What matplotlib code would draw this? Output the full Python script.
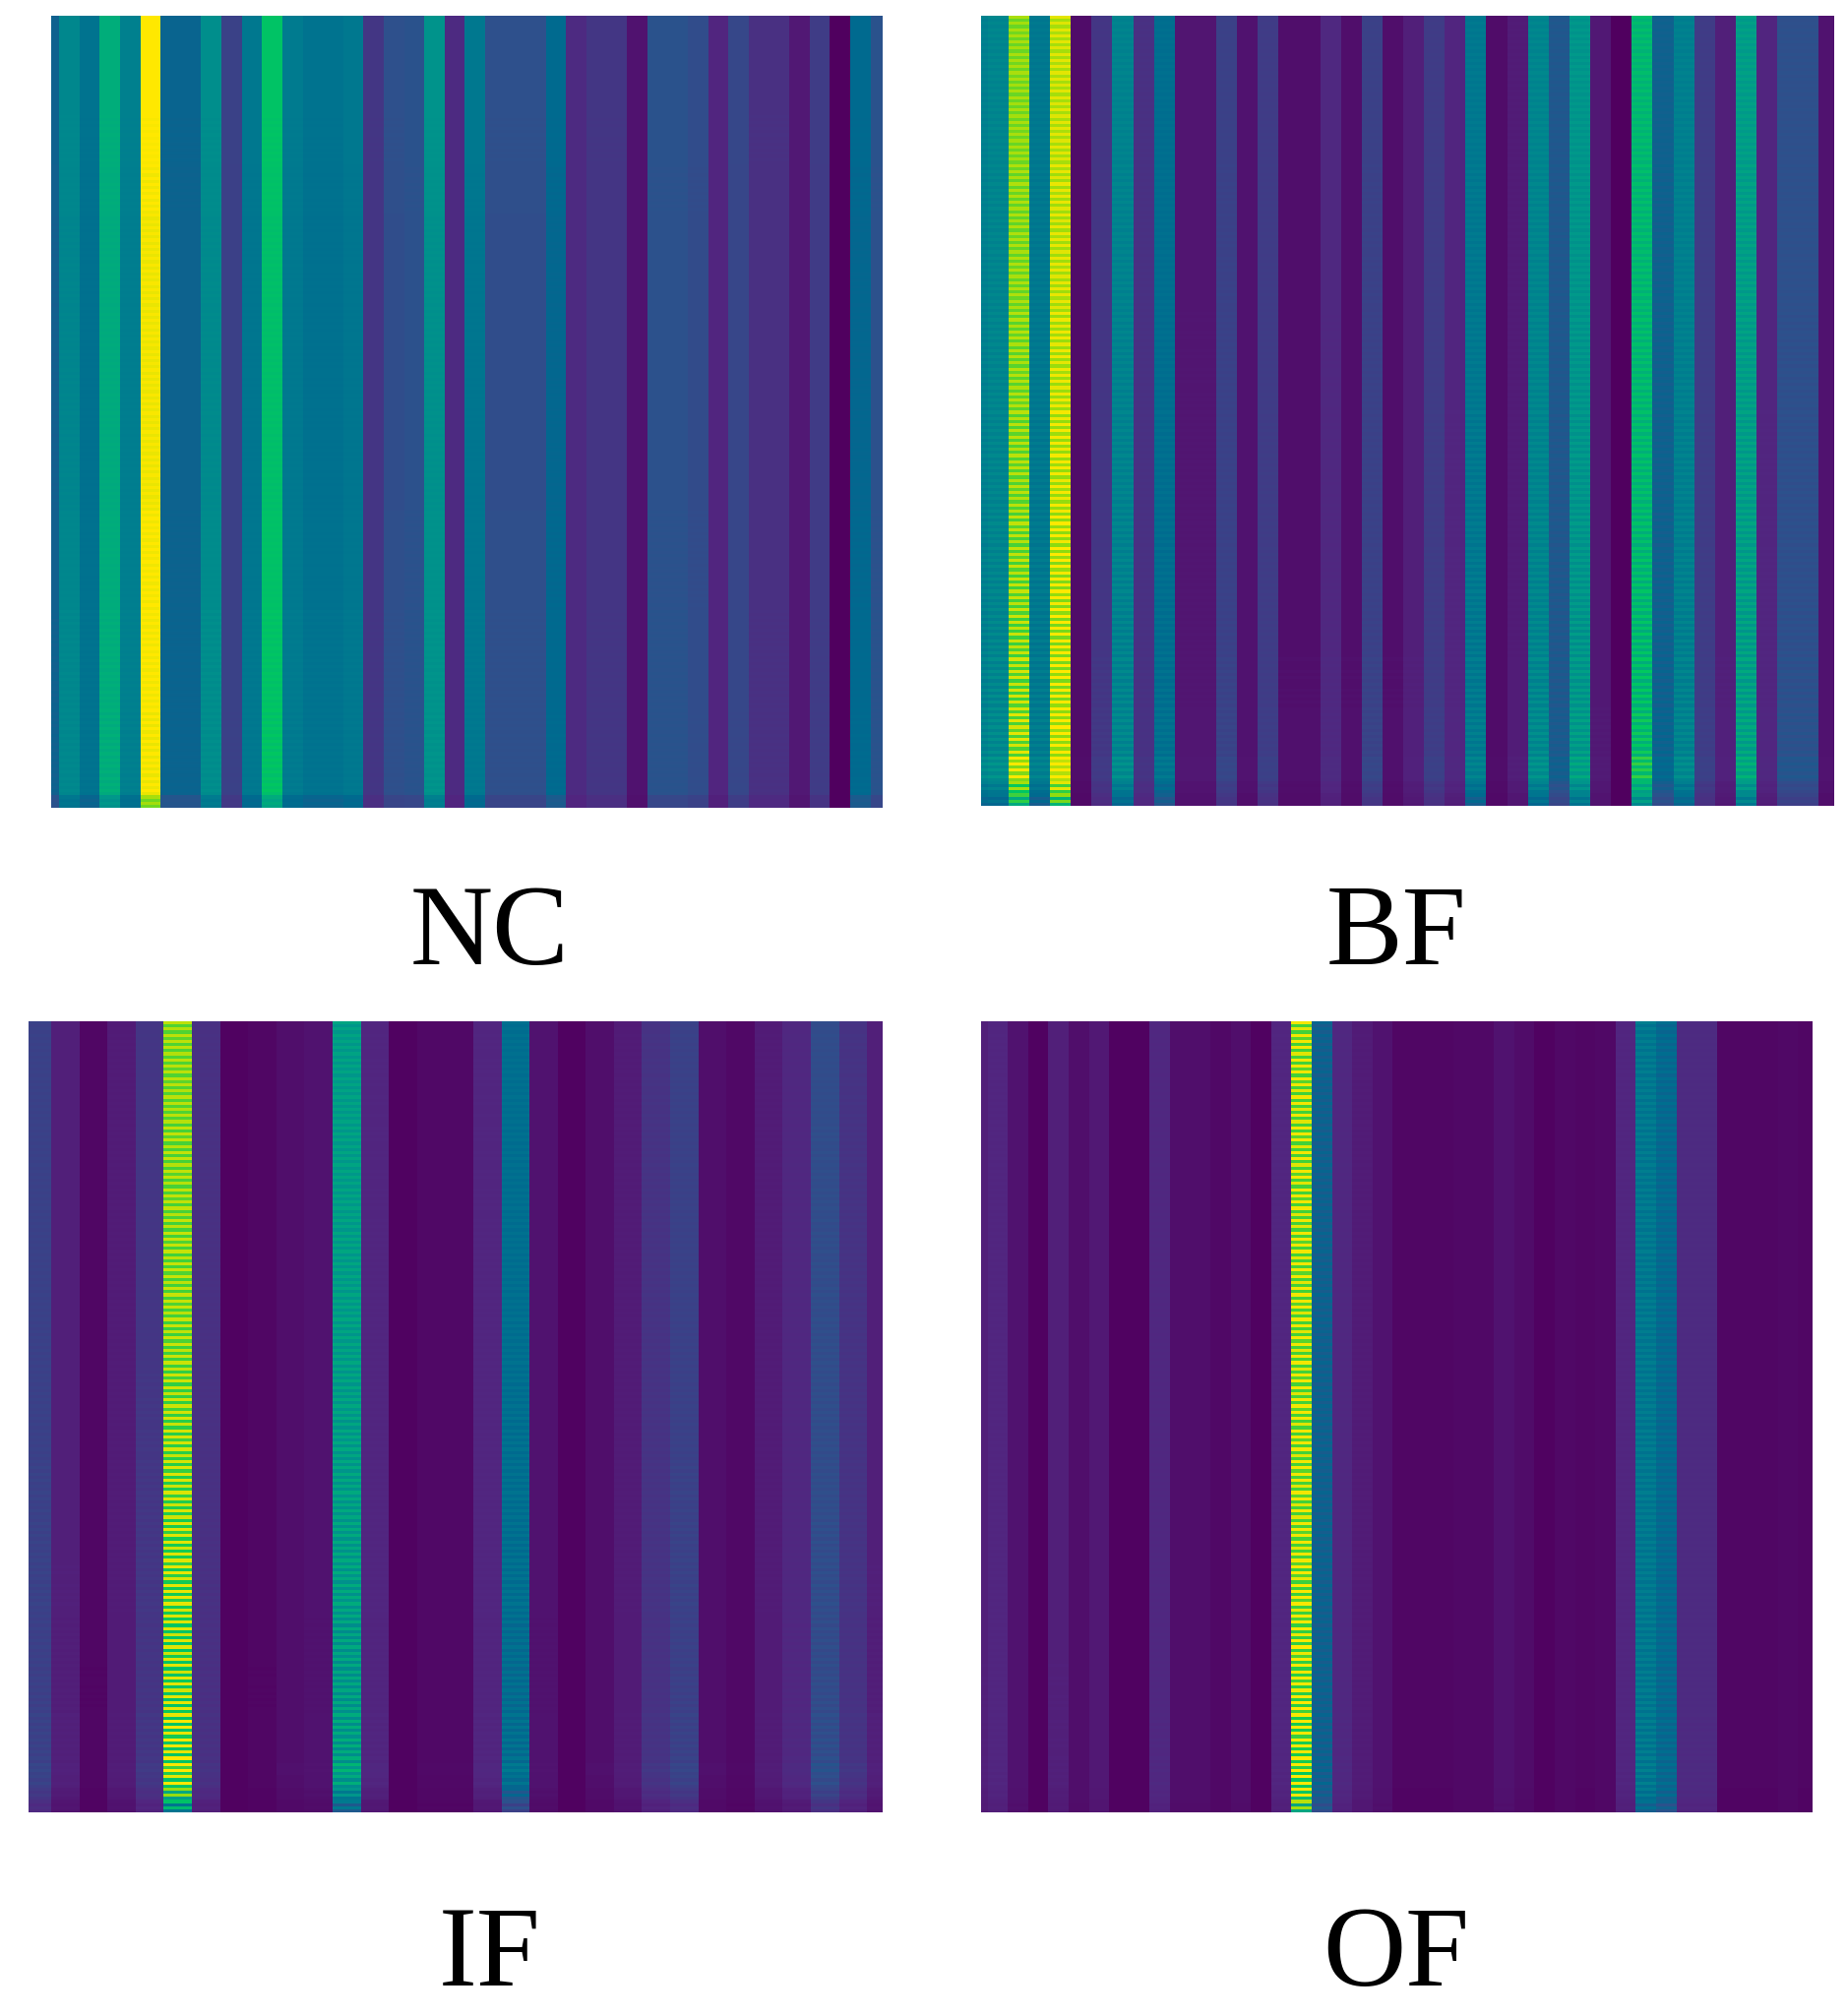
import numpy as np
import matplotlib
matplotlib.use("Agg")
import matplotlib.pyplot as plt
from matplotlib.colors import LinearSegmentedColormap

labels = ["NC", "BF", "IF", "OF"]

nc_cols = [.33, .48, .40, .62, .45, 1.0, .34, .34, .50, .22, .42, .70, .43, .40,
           .40, .42, .18, .27, .28, .52, .14, .42, .27, .27, .27, .36, .14, .18,
           .18, .06, .28, .28, .26, .12, .24, .16, .16, .08, .20, .00, .36, .28]
bf_cols = [.45, .47, .85, .42, .92, .04, .18, .46, .16, .38, .07, .07, .22, .06,
           .20, .05, .05, .13, .05, .22, .05, .10, .20, .12, .42, .04, .09, .47,
           .30, .53, .08, .00, .66, .33, .45, .20, .10, .56, .12, .27, .27, .06]
if_cols = [.22, .10, .02, .09, .18, .85, .16, .01, .02, .05, .06, .56, .12, .01,
           .03, .03, .12, .38, .06, .01, .05, .09, .17, .22, .05, .03, .09, .13,
           .26, .17, .10]
of_cols = [.10, .12, .06, .01, .10, .05, .08, .01, .01, .13, .05, .05, .03, .05,
           .01, .12, .88, .33, .13, .09, .06, .02, .02, .02, .03, .03, .06, .04,
           .01, .03, .02, .03, .12, .42, .36, .14, .14, .02, .02, .02, .03, .02]

# stripe strength down each panel, 16 sections top to bottom
nc_env = [.00, .00, .01, .01, .01, .01, .01, .01, .01, .01, .01, .01, .02, .02, .03, .03]
bf_env = [.05, .05, .05, .06, .06, .06, .07, .07, .08, .08, .09, .10, .11, .12, .12, .12]
if_env = [.08, .08, .09, .09, .10, .10, .11, .12, .13, .14, .15, .16, .17, .18, .20, .20]
of_env = [.13, .13, .13, .13, .13, .13, .13, .13, .13, .13, .13, .14, .15, .16, .18, .20]

# brightness down each panel
nc_level = [1, 1, 1, .99, .98, .98, .98, .98, .98, .98, .99, .99, 1, 1, 1, 1]
bf_level = [1, 1, 1, 1, 1, 1, 1, 1, 1, 1, 1, 1, 1, 1.01, 1.03, 1.04]
if_level = [1, 1, 1, 1, 1, 1, 1, 1, 1, 1, 1, 1, .98, .98, 1.0, 1.05]
of_level = [1, 1, 1, 1, 1, 1, 1, 1, 1, 1, 1, 1, 1, 1, 1, 1]

# last 16 rows, in 4 chunks
nc_tail = [1, 1, 1, .85]
bf_tail = [1.04, 1.04, .9, .78]
if_tail = [1.0, .95, .8, .62]
of_tail = [1, 1, .95, .85]

row_ripple = [
    1, -1, .8, -1, 1, -.8, 1, -1, 1, -1, .8, -1, 1, -1, 1, -.8,
    1, -1, 1, -.8, 1, -1, .8, -1, 1, -1, 1, -1, .8, -1, 1, -1,
    .8, -1, 1, -1, 1, -.8, 1, -1, .8, -1, 1, -1, 1, -1, .8, -1,
    1, -.8, 1, -1, .8, -1, 1, -1, 1, -.8, 1, -1, 1, -1, .8, -1,
    1, -1, .8, -1, 1, -1, 1, -.8, 1, -1, 1, -1, .8, -1, 1, -1,
    1, -.8, 1, -1, .8, -1, 1, -1, 1, -1, 1, -.8, 1, -1, .8, -1,
    1, -1, 1, -1, .8, -1, 1, -.8, 1, -1, .8, -1, 1, -1, 1, -1,
    .8, -1, 1, -.8, 1, -1, 1, -1, .8, -1, 1, -1, 1, -.8, 1, -1,
    1, -1, .8, -1, 1, -1, 1, -.8, 1, -1, 1, -1, .8, -1, 1, -1,
    1, -.8, 1, -1, 1, -1, .8, -1, 1, -.8, 1, -1, .8, -1, 1, -1,
    .8, -1, 1, -1, 1, -.8, 1, -1, 1, -1, .8, -1, 1, -1, 1, -.8,
    1, -1, 1, -.8, .8, -1, 1, -1, 1, -1, 1, -.8, 1, -1, .8, -1,
    1, -.8, 1, -1, 1, -1, .8, -1, 1, -1, 1, -1, .8, -.8, 1, -1,
    1, -1, .8, -1, 1, -.8, 1, -1, .8, -1, 1, -1, 1, -1, 1, -.8,
    .8, -1, 1, -1, 1, -1, .8, -.8, 1, -1, 1, -1, .8, -1, 1, -1,
    1, -.8, 1, -1, .8, -1, 1, -1, 1, -.8, 1, -1, 1, -1, .8, -1,
]

W, H = 1877, 2049

# the print version of viridis is more saturated than the stock one
print_viridis = LinearSegmentedColormap.from_list("print_viridis", [
    (0.00, "#50005f"), (0.12, "#522680"), (0.27, "#2f508c"), (0.36, "#006a90"),
    (0.45, "#00808f"), (0.55, "#009b8a"), (0.66, "#00b872"), (0.72, "#00c860"),
    (0.85, "#90dc10"), (1.00, "#ffe800"),
])

panels = [
    # cols, env, level, tail, (left, right, top, bottom in px), first and last column fraction
    (nc_cols, nc_env, nc_level, nc_tail, (52, 897, 16, 821), .4, .6),
    (bf_cols, bf_env, bf_level, bf_tail, (997, 1864, 16, 819), .32, .74),
    (if_cols, if_env, if_level, if_tail, (29, 897, 1038, 1842), .81, .55),
    (of_cols, of_env, of_level, of_tail, (997, 1841, 1038, 1842), .32, .72),
]
label_pos = [(498, 980), (1419, 980), (498, 2018), (1419, 2018)]

fig = plt.figure(figsize=(W / 100, H / 100), dpi=100, facecolor="white")

for (cols, env, level, tail, box, first, last) in panels:
    left, right, top, bottom = box
    ax = fig.add_axes([left / W, 1 - bottom / H, (right - left) / W, (bottom - top) / H])
    cols = np.array(cols)
    env_r = np.repeat(env, 16)
    level_r = np.repeat(level, 16).astype(float)
    level_r[-16:] *= np.repeat(tail, 4)
    img = np.outer(level_r, cols) + np.outer(env_r * np.array(row_ripple), cols ** 2)
    ax.imshow(img, cmap=print_viridis, vmin=0, vmax=1, aspect="auto", interpolation="nearest")
    ax.set_xlim(-0.5 + (1 - first), len(cols) - 0.5 - (1 - last))
    ax.axis("off")

for name, (x, y) in zip(labels, label_pos):
    fig.text(x / W, 1 - y / H, name, family="Liberation Serif", fontsize=84,
             ha="center", va="baseline", color="black")

fig.savefig("out.png", dpi=100)
